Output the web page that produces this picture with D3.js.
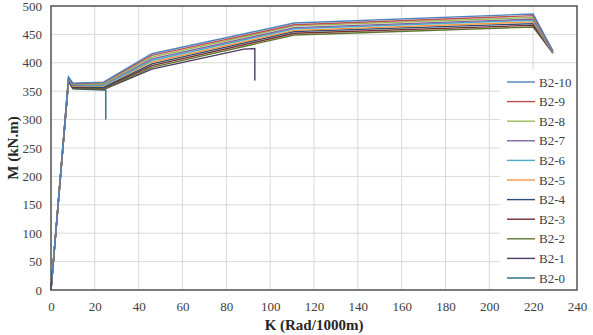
<!DOCTYPE html>
<html>
<head>
<meta charset="utf-8">
<script src="https://cdn.jsdelivr.net/npm/d3@7"></script>
<style>
  body { margin: 0; background: #fff; }
  svg text { font-family: "Liberation Serif", "DejaVu Serif", serif; }
</style>
</head>
<body>
<div id="my_dataviz"></div>
<script>
// Series names, top of legend first
var seriesNames = ["B2-10", "B2-9", "B2-8", "B2-7", "B2-6", "B2-5", "B2-4", "B2-3", "B2-2", "B2-1", "B2-0"];
var seriesColors = ["#4F81BD", "#C0504D", "#9BBB59", "#8064A2", "#4BACC6", "#F79646",
                    "#2C4D75", "#772C2A", "#5F7530", "#4D3B62", "#276A7C"];

// curvature K (Rad/1000m) for each point, per series
var kFull = [0, 8, 10, 24, 46, 111, 220, 229];
var kB21 = [0, 8, 10, 24, 46, 88, 93, 93];
var kB20 = [0, 8, 10, 25, 25];

// moment M (kN.m)
var mB210 = [0, 375, 364, 366, 416, 470, 486, 421];
var mB29 = [0, 374, 363, 365, 413, 467, 483, 420];
var mB28 = [0, 373, 362, 363, 410, 465, 480, 420];
var mB27 = [0, 372, 361, 362, 407, 462, 477, 419];
var mB26 = [0, 372, 360, 360, 404, 460, 475, 419];
var mB25 = [0, 371, 359, 359, 401, 457, 472, 418];
var mB24 = [0, 370, 358, 357, 398, 455, 469, 418];
var mB23 = [0, 370, 357, 356, 395, 452, 466, 417];
var mB22 = [0, 369, 356, 354, 392, 449, 463, 417];
var mB21 = [0, 368, 355, 353, 389, 424, 425, 369];
var mB20 = [0, 367, 354, 352, 300];

var xTicks = [0, 20, 40, 60, 80, 100, 120, 140, 160, 180, 200, 220, 240];
var yTicks = [0, 50, 100, 150, 200, 250, 300, 350, 400, 450, 500];

function visualize() {
    var W = 593, H = 335;
    var margin = { top: 6, right: 16, bottom: 45, left: 51 },
        width = W - margin.left - margin.right,
        height = H - margin.top - margin.bottom;

    var svg = d3.select("#my_dataviz")
        .append("svg")
        .attr("width", W)
        .attr("height", H)
        .append("g")
        .attr("transform", "translate(" + margin.left + "," + margin.top + ")");

    var x = d3.scaleLinear().domain([0, 240]).range([0, width]);
    var y = d3.scaleLinear().domain([0, 500]).range([height, 0]);

    // Gridlines
    svg.append("g")
        .selectAll("line.h")
        .data(yTicks)
        .enter()
        .append("line")
        .attr("x1", 0).attr("x2", width)
        .attr("y1", function(d) { return y(d); })
        .attr("y2", function(d) { return y(d); })
        .attr("stroke", "#d9d9d9").attr("stroke-width", 1);
    svg.append("g")
        .selectAll("line.v")
        .data(xTicks)
        .enter()
        .append("line")
        .attr("y1", 0).attr("y2", height)
        .attr("x1", function(d) { return x(d); })
        .attr("x2", function(d) { return x(d); })
        .attr("stroke", "#d9d9d9").attr("stroke-width", 1);

    // Axes (tick labels only, frame drawn below)
    var xAxis = svg.append("g")
        .attr("transform", "translate(0," + height + ")")
        .call(d3.axisBottom(x).tickValues(xTicks).tickSize(0).tickPadding(12));
    var yAxis = svg.append("g")
        .call(d3.axisLeft(y).tickValues(yTicks).tickSize(0).tickPadding(9));
    [xAxis, yAxis].forEach(function(a) {
        a.select(".domain").remove();
        a.selectAll("text")
            .style("font-family", "Liberation Serif, serif")
            .style("font-size", "13px")
            .attr("fill", "#404040");
    });

    // Build series data
    var mVals = [mB210, mB29, mB28, mB27, mB26, mB25, mB24, mB23, mB22, mB21, mB20];
    var dataReady = seriesNames.map(function(name, i) {
        var ks = name === "B2-1" ? kB21 : (name === "B2-0" ? kB20 : kFull);
        return {
            name: name,
            color: seriesColors[i],
            values: ks.map(function(k, j) { return { k: k, m: mVals[i][j] }; })
        };
    });

    var line = d3.line()
        .x(function(d) { return x(d.k); })
        .y(function(d) { return y(d.m); });

    // Draw lines, bottom series first
    svg.selectAll("myLines")
        .data(dataReady.slice().reverse())
        .enter()
        .append("path")
        .attr("d", function(d) { return line(d.values); })
        .attr("stroke", function(d) { return d.color; })
        .style("stroke-width", 1.4)
        .style("fill", "none");

    // Legend box (white, covers gridlines)
    var legX = 449, legY = 64, legW = width - 449, legH = height - 64;
    svg.append("rect")
        .attr("x", legX).attr("y", legY)
        .attr("width", legW).attr("height", legH)
        .attr("fill", "#fff");

    var leg = svg.selectAll("myLegend")
        .data(dataReady)
        .enter()
        .append("g")
        .attr("transform", function(d, i) { return "translate(" + (legX + 7) + "," + (legY + 12 + i * 19.6) + ")"; });
    leg.append("line")
        .attr("x1", 0).attr("x2", 28)
        .attr("stroke", function(d) { return d.color; })
        .attr("stroke-width", 1.4);
    leg.append("text")
        .attr("x", 32)
        .attr("dy", "0.35em")
        .style("font-size", "13px")
        .attr("fill", "#404040")
        .text(function(d) { return d.name; });

    // Plot frame
    svg.append("rect")
        .attr("x", 0).attr("y", 0)
        .attr("width", width).attr("height", height)
        .attr("fill", "none")
        .attr("stroke", "#404040")
        .attr("stroke-width", 1.3);

    // Axis titles
    svg.append("text")
        .attr("x", width / 2)
        .attr("y", height + 40)
        .attr("text-anchor", "middle")
        .style("font-size", "15px")
        .style("font-weight", "bold")
        .attr("fill", "#262626")
        .text("K (Rad/1000m)");
    svg.append("text")
        .attr("transform", "translate(" + (-33) + "," + (height / 2) + ") rotate(-90)")
        .attr("text-anchor", "middle")
        .style("font-size", "15px")
        .style("font-weight", "bold")
        .attr("fill", "#262626")
        .text("M (kN.m)");
}

visualize();
</script>
</body>
</html>
